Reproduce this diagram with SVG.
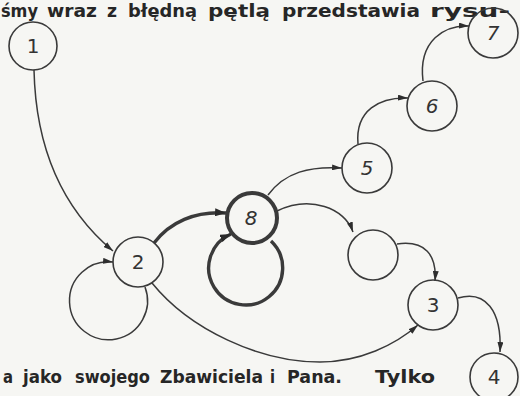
<svg xmlns="http://www.w3.org/2000/svg" width="520" height="396" viewBox="0 0 520 396">
  <style>
    .page { fill: #f6f6f3; }
    .node { fill: none; stroke: #3a3a3a; stroke-width: 1.6; }
    .node.bold { stroke-width: 4; }
    .label { font-family: "DejaVu Sans", "Liberation Sans", sans-serif; font-size: 20px; fill: #333; text-anchor: middle; }
    .label.it { font-style: italic; }
    .edge { fill: none; stroke: #3a3a3a; stroke-width: 1.5; }
    .edge.thick { stroke-width: 3.4; }
    .prose { font-family: "DejaVu Sans", "Liberation Sans", sans-serif; font-weight: bold; fill: #262626; }
  </style>
  <defs>
    <marker id="arrow" markerUnits="userSpaceOnUse" markerWidth="10" markerHeight="6" refX="10" refY="3" orient="auto">
      <path d="M0,0 L10,3 L0,6 z" fill="#2e2e2e"/>
    </marker>
    <marker id="arrow-thick" markerUnits="userSpaceOnUse" markerWidth="11" markerHeight="8" refX="11" refY="4" orient="auto">
      <path d="M0,0 L11,4 L0,8 z" fill="#2a2a2a"/>
    </marker>
  </defs>

  <rect class="page" x="0" y="0" width="520" height="396"/>

  <!-- running text above and below the figure -->
  <text class="prose" font-size="17" y="17">
    <tspan x="1" textLength="37" lengthAdjust="spacingAndGlyphs">śmy</tspan>
    <tspan x="47" textLength="50" lengthAdjust="spacingAndGlyphs">wraz</tspan>
    <tspan x="107" textLength="10" lengthAdjust="spacingAndGlyphs">z</tspan>
    <tspan x="128" textLength="69" lengthAdjust="spacingAndGlyphs">błędną</tspan>
    <tspan x="208" textLength="62" lengthAdjust="spacingAndGlyphs">pętlą</tspan>
    <tspan x="282" textLength="138" lengthAdjust="spacingAndGlyphs">przedstawia</tspan>
    <tspan x="430" textLength="80" lengthAdjust="spacingAndGlyphs">rysu-</tspan>
  </text>
  <text class="prose" font-size="17" y="383">
    <tspan x="3" textLength="10" lengthAdjust="spacingAndGlyphs">a</tspan>
    <tspan x="23" textLength="39" lengthAdjust="spacingAndGlyphs">jako</tspan>
    <tspan x="75" textLength="75" lengthAdjust="spacingAndGlyphs">swojego</tspan>
    <tspan x="160" textLength="103" lengthAdjust="spacingAndGlyphs">Zbawiciela</tspan>
    <tspan x="270" textLength="5" lengthAdjust="spacingAndGlyphs">i</tspan>
    <tspan x="287" textLength="55" lengthAdjust="spacingAndGlyphs">Pana.</tspan>
    <tspan x="375" textLength="60" lengthAdjust="spacingAndGlyphs">Tylko</tspan>
  </text>

  <!-- connectors -->
  <g id="edges">
    <path class="edge" d="M34,70 C36,160 70,215 113,251" marker-end="url(#arrow)"/>
    <path class="edge" d="M145,287 A39,39 0 1 1 113,262" marker-end="url(#arrow)"/>
    <path class="edge thick" d="M154,243 C170,222 195,211 226,213" marker-end="url(#arrow-thick)"/>
    <path class="edge thick" d="M271,241 A37,37 0 1 1 231,234" marker-end="url(#arrow-thick)"/>
    <path class="edge" d="M268,195 C285,172 310,166 342,168" marker-end="url(#arrow)"/>
    <path class="edge" d="M277,211 C310,195 345,208 353,232" marker-end="url(#arrow)"/>
    <path class="edge" d="M358,144 C355,110 380,97 408,98" marker-end="url(#arrow)"/>
    <path class="edge" d="M423,81 C418,40 445,25 469,26" marker-end="url(#arrow)"/>
    <path class="edge" d="M397,244 C425,240 437,255 435,281" marker-end="url(#arrow)"/>
    <path class="edge" d="M458,298 C485,290 502,310 500,352" marker-end="url(#arrow)"/>
    <path class="edge" d="M152,283 C190,330 260,362 320,362 C360,362 395,345 418,325" marker-end="url(#arrow)"/>
  </g>

  <!-- states -->
  <g id="node-1">
    <circle class="node" cx="33" cy="46" r="24"/>
    <text class="label" x="33" y="53">1</text>
  </g>
  <g id="node-2">
    <circle class="node" cx="138" cy="262" r="25"/>
    <text class="label" x="138" y="269">2</text>
  </g>
  <g id="node-8">
    <circle class="node bold" cx="252" cy="218" r="25"/>
    <text class="label it" x="251" y="225">8</text>
  </g>
  <g id="node-5">
    <circle class="node" cx="367" cy="168" r="25"/>
    <text class="label it" x="367" y="175">5</text>
  </g>
  <g id="node-6">
    <circle class="node" cx="432" cy="106" r="25"/>
    <text class="label it" x="432" y="113">6</text>
  </g>
  <g id="node-7">
    <circle class="node" cx="493" cy="33" r="25"/>
    <text class="label it" x="493" y="40">7</text>
  </g>
  <g id="node-blank">
    <circle class="node" cx="373" cy="255" r="25"/>
  </g>
  <g id="node-3">
    <circle class="node" cx="433" cy="305" r="25"/>
    <text class="label" x="433" y="312">3</text>
  </g>
  <g id="node-4">
    <circle class="node" cx="494" cy="377" r="24"/>
    <text class="label" x="494" y="384">4</text>
  </g>
</svg>
